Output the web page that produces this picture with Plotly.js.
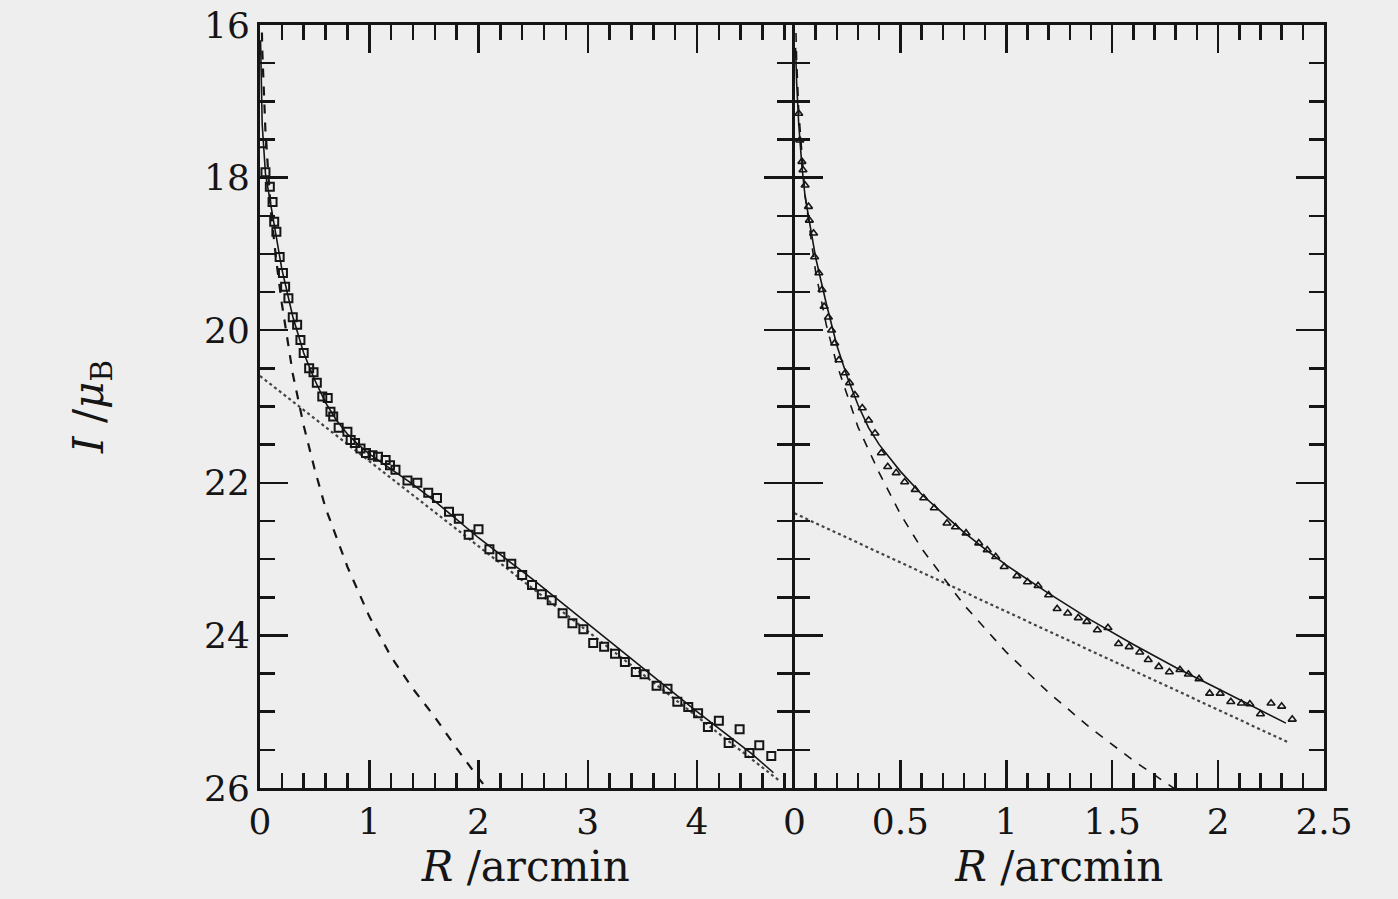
<!DOCTYPE html>
<html><head><meta charset="utf-8">
<script src="https://cdn.plot.ly/plotly-3.0.1.min.js"></script>
<style>html,body{margin:0;padding:0;background:#eeeeee}</style>
</head><body><div id="chart" style="width:1398px;height:899px"></div>
<script>
// ---- Left panel (squares) ----
const leftPointsR = [0.02,0.05,0.09,0.115,0.13,0.15,0.18,0.21,0.23,0.26,0.30,0.34,0.37,0.40,0.45,0.49,0.52,0.57,0.62,0.645,0.67,0.72,0.80,0.83,0.87,0.92,0.97,1.03,1.08,1.15,1.19,1.24,1.35,1.44,1.54,1.62,1.73,1.82,1.91,2.00,2.10,2.20,2.30,2.40,2.49,2.58,2.67,2.77,2.86,2.96,3.05,3.15,3.25,3.34,3.44,3.52,3.63,3.73,3.82,3.92,4.01,4.10,4.20,4.29,4.39,4.48,4.57,4.68];
const leftPointsMu = [17.55,17.93,18.12,18.32,18.58,18.71,19.04,19.25,19.43,19.58,19.83,19.93,20.13,20.30,20.50,20.55,20.69,20.87,20.89,21.07,21.13,21.28,21.33,21.44,21.48,21.55,21.61,21.64,21.66,21.70,21.77,21.83,21.97,22.00,22.13,22.20,22.38,22.47,22.68,22.61,22.87,22.97,23.06,23.21,23.34,23.46,23.54,23.71,23.84,23.92,24.10,24.15,24.24,24.35,24.48,24.51,24.66,24.70,24.87,24.94,25.02,25.20,25.12,25.41,25.23,25.54,25.44,25.58];
const leftTotalR  = [0.005,0.01,0.02,0.05,0.1,0.15,0.2,0.3,0.4,0.5,0.6,0.7,0.8,0.9,1.0,1.2,1.4,1.6,1.8,2.0,2.5,3.0,3.5,4.0,4.5,4.7];
const leftTotalMu = [16.2,16.7,17.3,17.95,18.35,18.8,19.2,19.82,20.3,20.65,20.95,21.18,21.36,21.5,21.62,21.82,22.02,22.24,22.48,22.72,23.27,23.85,24.42,25.0,25.55,25.8];
const leftBulgeR  = [0.005,0.01,0.02,0.05,0.1,0.15,0.2,0.3,0.4,0.5,0.6,0.8,1.0,1.2,1.4,1.6,1.8,2.0,2.1];
const leftBulgeMu = [14.92,15.52,16.3,17.4,18.45,19.1,19.65,20.57,21.25,21.82,22.33,23.1,23.75,24.28,24.7,25.07,25.48,25.87,26.05];
const leftDiskR   = [0, 4.75];
const leftDiskMu  = [20.6, 25.9];

// ---- Right panel (triangles) ----
const rightPointsR = [0.02,0.025,0.035,0.04,0.05,0.066,0.07,0.09,0.095,0.115,0.13,0.14,0.16,0.175,0.19,0.21,0.24,0.26,0.285,0.32,0.35,0.38,0.41,0.44,0.48,0.52,0.57,0.61,0.66,0.72,0.76,0.81,0.87,0.91,0.95,0.99,1.05,1.10,1.15,1.20,1.24,1.29,1.34,1.38,1.43,1.48,1.53,1.58,1.63,1.67,1.72,1.77,1.82,1.86,1.91,1.96,2.01,2.06,2.11,2.15,2.20,2.25,2.30,2.35];
const rightPointsMu = [17.16,17.51,17.79,17.90,18.10,18.38,18.56,18.73,19.04,19.25,19.47,19.69,19.83,20.00,20.17,20.39,20.56,20.69,20.85,21.02,21.18,21.35,21.61,21.79,21.87,21.99,22.09,22.20,22.33,22.53,22.58,22.66,22.79,22.88,22.97,23.10,23.22,23.30,23.35,23.47,23.65,23.71,23.77,23.82,23.93,23.90,24.11,24.15,24.22,24.32,24.41,24.48,24.45,24.51,24.57,24.76,24.76,24.87,24.89,24.90,25.03,24.89,24.93,25.10];
const rightTotalR  = [0.005,0.01,0.02,0.035,0.05,0.08,0.1,0.15,0.2,0.25,0.3,0.35,0.4,0.5,0.6,0.7,0.8,0.9,1.0,1.2,1.4,1.6,1.8,2.0,2.2,2.32];
const rightTotalMu = [16.3,16.75,17.3,17.85,18.25,18.72,19.05,19.65,20.2,20.62,20.98,21.28,21.5,21.85,22.15,22.4,22.65,22.87,23.08,23.45,23.8,24.12,24.42,24.7,24.98,25.15];
const rightBulgeR  = [0.005,0.01,0.02,0.05,0.1,0.15,0.2,0.3,0.4,0.5,0.6,0.8,1.0,1.2,1.4,1.6,1.8];
const rightBulgeMu = [15.87,16.45,17.13,18.23,19.24,19.93,20.45,21.27,21.87,22.41,22.86,23.6,24.22,24.75,25.22,25.64,26.02];
const rightDiskR   = [0, 2.33];
const rightDiskMu  = [22.4, 25.4];

const xTitleText = '<i>R</i> /arcmin';
const yTitleText = '<i>I</i> /<i>μ</i><sub>B</sub>';

const ink = '#151515';
const serif = 'DejaVu Serif';

function line(x, y, xa, ya, dash, width, color) {
  return {x, y, xaxis: xa, yaxis: ya, mode: 'lines', type: 'scatter',
    line: {color: color || ink, width: width, dash: dash}, hoverinfo: 'skip', showlegend: false};
}
function pts(x, y, xa, ya, symbol, size, lw) {
  return {x, y, xaxis: xa, yaxis: ya, mode: 'markers', type: 'scatter',
    marker: {symbol: symbol, size: size, color: ink, line: {color: ink, width: lw}},
    hoverinfo: 'skip', showlegend: false, cliponaxis: true};
}

const data = [
  line(leftDiskR, leftDiskMu, 'x', 'y', 'dot', 2.2, '#444'),
  line(leftBulgeR, leftBulgeMu, 'x', 'y', 'dash', 2.2, ink),
  line(leftTotalR, leftTotalMu, 'x', 'y', 'solid', 1.6, ink),
  pts(leftPointsR, leftPointsMu, 'x', 'y', 'square-open', 8, 2),
  line(rightDiskR, rightDiskMu, 'x2', 'y2', 'dot', 2.2, '#444'),
  line(rightBulgeR, rightBulgeMu, 'x2', 'y2', 'dash', 1.6, ink),
  line(rightTotalR, rightTotalMu, 'x2', 'y2', 'solid', 1.6, ink),
  pts(rightPointsR, rightPointsMu, 'x2', 'y2', 'triangle-up-open', 7, 1.6)
];

const tickFont = {family: serif, size: 36, color: ink};
const titleFont = {family: serif, size: 42, color: ink};
function xax(domain, range, dtick, minorDtick, anchor) {
  return {domain, range, dtick, tick0: 0, anchor,
    ticks: 'inside', ticklen: 28, tickwidth: 2.5, tickcolor: ink,
    minor: {dtick: minorDtick, tick0: 0, ticks: 'inside', ticklen: 15, tickwidth: 2.5, tickcolor: ink, showgrid: false},
    showline: true, linewidth: 3, linecolor: ink, mirror: 'ticks',
    showgrid: false, zeroline: false, tickfont: tickFont,
    title: {text: xTitleText, font: titleFont, standoff: 2}};
}
function yax(anchor, labels) {
  const ax = {range: [26, 16], dtick: 2, tick0: 16, anchor,
    ticks: 'inside', ticklen: 28, tickwidth: 2.5, tickcolor: ink,
    minor: {dtick: 0.5, tick0: 16, ticks: 'inside', ticklen: 15, tickwidth: 2.5, tickcolor: ink, showgrid: false},
    showline: true, linewidth: 3, linecolor: ink, mirror: 'ticks',
    showgrid: false, zeroline: false, tickfont: tickFont, showticklabels: labels};
  if (labels) ax.title = {text: yTitleText, font: titleFont, standoff: 88};
  return ax;
}
// plot area is 1064 px wide; the two panels' boundary lines overlap at the split
const leftEnd = 531.5 / 1064;
const rightStart = 534.5 / 1064;
const layout = {
  width: 1398, height: 899,
  margin: {l: 260, r: 74, t: 25, b: 111},
  paper_bgcolor: '#eeeeee', plot_bgcolor: '#eeeeee',
  showlegend: false,
  xaxis: xax([0, leftEnd], [0, 4.865], 1, 0.2, 'y'),
  xaxis2: xax([rightStart, 1], [0, 2.5], 0.5, 0.1, 'y2'),
  yaxis: yax('x', true),
  yaxis2: yax('x2', false)
};
Plotly.newPlot('chart', data, layout, {staticPlot: true, displayModeBar: false});
</script></body></html>
